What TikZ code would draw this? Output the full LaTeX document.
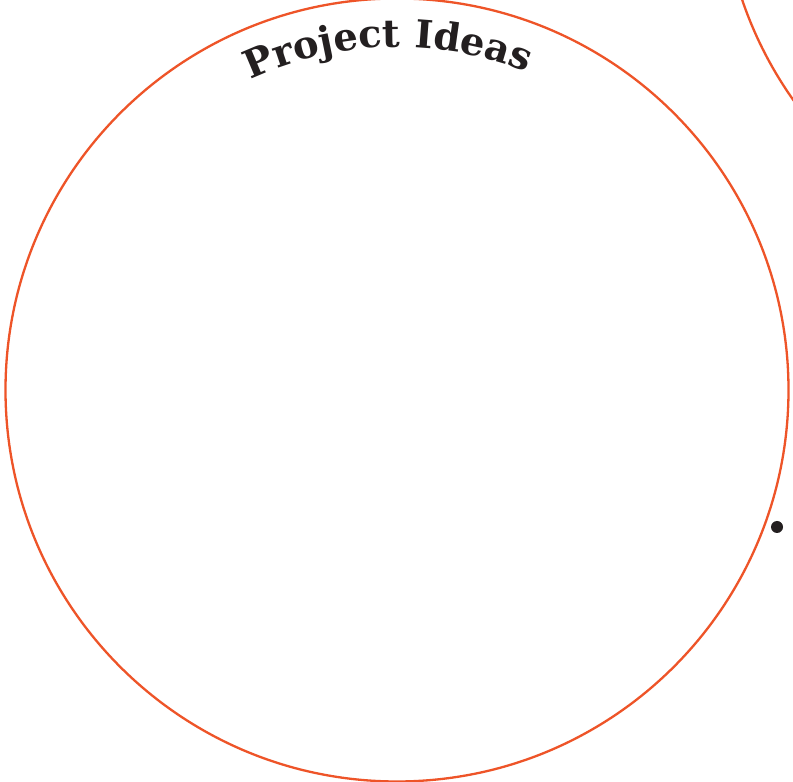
\documentclass[tikz,border=0pt]{standalone}
\usepackage{fontspec}
\newfontfamily\titlefont{DejaVu Serif}
\usetikzlibrary{decorations.text}
\definecolor{ringorange}{RGB}{238,84,40}
\definecolor{inkdark}{RGB}{35,31,32}
\begin{document}
\begin{tikzpicture}[x=1pt,y=1pt,
  ring/.style={circle, draw=ringorange, line width=2.3pt, inner sep=0pt, minimum size=783pt},
  bullet/.style={circle, fill=inkdark, inner sep=0pt, minimum size=12pt}]
\useasboundingbox (0,0) rectangle (793,782);
\clip (0,0) rectangle (793,782);
\fill[white] (0,0) rectangle (793,782);
\coordinate (c) at (397,392);
\node[ring] (main) at (c) {};
\node[ring] (other) at (1113,908) {};
\node[bullet] (dot) at (777,255) {};
\path[decorate, decoration={text along path, text align=center,
  text={|\titlefont\bfseries\fontsize{38.5}{38.5}\selectfont\color{inkdark}|Project Ideas}}]
  (c) ++(121.5:343) arc (121.5:61.5:343);
\end{tikzpicture}
\end{document}
